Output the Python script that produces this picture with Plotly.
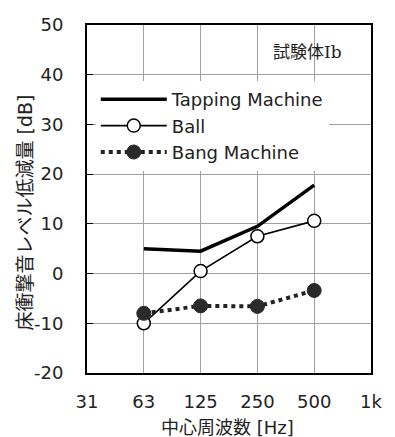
import plotly.graph_objects as go

# Octave-band centre frequencies shown on the axis
axis_bands = ["31", "63", "125", "250", "500", "1k"]
bands = ["63", "125", "250", "500"]

# Level axis ticks (plain hyphen minus as printed)
y_ticks = [-20, -10, 0, 10, 20, 30, 40, 50]
y_ticklabels = ["-20", "-10", "0", "10", "20", "30", "40", "50"]

# Floor impact sound level reduction [dB]
tapping = [5.0, 4.5, 9.5, 17.8]
ball = [-10.0, 0.5, 7.5, 10.6]
bang = [-8.0, -6.5, -6.6, -3.4]

FONT = "DejaVu Sans, Noto Sans CJK JP, sans-serif"

fig = go.Figure()
fig.add_trace(go.Scatter(
    x=bands, y=tapping, name="Tapping Machine", mode="lines",
    line=dict(color="black", width=3.5),
))
fig.add_trace(go.Scatter(
    x=bands, y=ball, name="Ball", mode="lines+markers",
    line=dict(color="black", width=1.6),
    marker=dict(symbol="circle", size=13, color="white",
                line=dict(color="black", width=1.5)),
))
fig.add_trace(go.Scatter(
    x=bands, y=bang, name="Bang Machine", mode="lines+markers",
    line=dict(color="#222222", width=4, dash="dot"),
    marker=dict(symbol="circle", size=14, color="#2a2a2a",
                line=dict(color="#2a2a2a", width=1)),
))

W, H = 395, 437
L, R, T, B = 87, 17, 25, 64
pw, ph = W - L - R, H - T - B


def px(x):
    return (x - L) / pw


def py(y):
    return (H - B - y) / ph


fig.update_layout(
    width=W, height=H,
    margin=dict(l=L, r=R, t=T, b=B),
    paper_bgcolor="white", plot_bgcolor="white",
    font=dict(family=FONT, size=18, color="#222222"),
    showlegend=True,
    legend=dict(
        x=px(96), y=py(81), xanchor="left", yanchor="top",
        bgcolor="white", borderwidth=0,
        itemwidth=66, tracegroupgap=0,
        font=dict(family=FONT, size=18, color="#222222"),
    ),
    xaxis=dict(
        type="category", categoryorder="array", categoryarray=axis_bands,
        range=[0, 5], tickvals=axis_bands,
        showgrid=True, gridcolor="#a0a0a0", gridwidth=1,
        showline=True, linecolor="black", linewidth=2, mirror=True,
        ticks="", ticklabelstandoff=11,
        tickfont=dict(family=FONT, size=18, color="#222222"),
        zeroline=False,
    ),
    yaxis=dict(
        range=[-20, 50], tickvals=y_ticks, ticktext=y_ticklabels,
        showgrid=True, gridcolor="#a0a0a0", gridwidth=1,
        showline=True, linecolor="black", linewidth=2, mirror=True,
        ticks="inside", ticklen=6, tickcolor="black", tickwidth=1,
        ticklabelstandoff=18,
        tickfont=dict(family=FONT, size=18, color="#222222"),
        zeroline=False,
    ),
    annotations=[
        dict(text="床衝撃音レベル低減量 [dB]", textangle=-90,
             x=px(23), y=py(213), xref="paper", yref="paper",
             xanchor="center", yanchor="middle",
             showarrow=False, font=dict(family=FONT, size=19, color="#222222")),
        dict(text="中心周波数 [Hz]",
             x=px(231), y=py(427), xref="paper", yref="paper",
             xanchor="center", yanchor="middle",
             showarrow=False, font=dict(family=FONT, size=18, color="#222222")),
        dict(text="試験体Ib",
             x=px(313), y=py(52), xref="paper", yref="paper",
             xanchor="center", yanchor="middle",
             showarrow=False,
             font=dict(family="DejaVu Serif, Noto Sans CJK JP, serif",
                       size=17, color="#222222")),
    ],
)

fig.write_html("out.html")
